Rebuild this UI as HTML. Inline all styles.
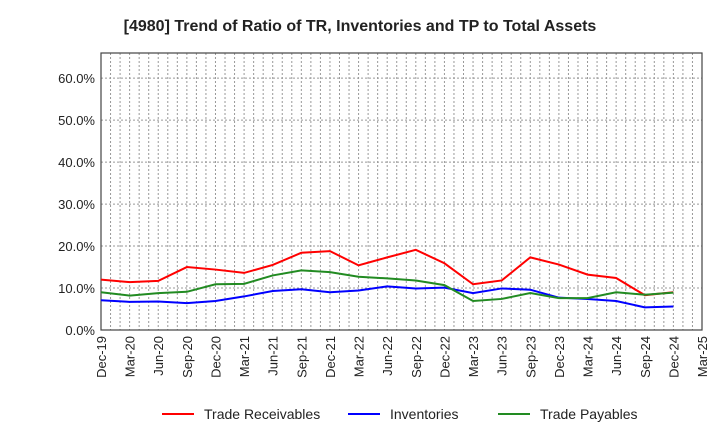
<!DOCTYPE html>
<html><head><meta charset="utf-8"><style>body{margin:0;background:#fff;font-family:"Liberation Sans",sans-serif}</style></head>
<body>
<svg id="c" width="720" height="440" xmlns="http://www.w3.org/2000/svg">
<text x="360" y="31" text-anchor="middle" font-size="16" font-weight="bold" fill="#222">[4980]  Trend of Ratio of TR, Inventories and TP to Total Assets</text>
</svg>
<script>
const xLabels=["Dec-19","Mar-20","Jun-20","Sep-20","Dec-20","Mar-21","Jun-21","Sep-21","Dec-21","Mar-22","Jun-22","Sep-22","Dec-22","Mar-23","Jun-23","Sep-23","Dec-23","Mar-24","Jun-24","Sep-24","Dec-24","Mar-25"];
const yTicks=[0,10,20,30,40,50,60];
const tr=[12.0,11.4,11.7,15.0,14.4,13.6,15.5,18.4,18.8,15.4,17.3,19.1,15.9,10.9,11.8,17.3,15.6,13.2,12.4,8.3,9.0];
const inv=[7.1,6.7,6.8,6.4,6.9,8.0,9.3,9.7,9.0,9.4,10.4,9.9,10.1,8.8,9.9,9.6,7.7,7.4,6.9,5.4,5.6];
const tp=[9.0,8.2,8.8,9.1,10.9,11.0,13.0,14.2,13.8,12.7,12.3,11.8,10.7,6.9,7.4,8.8,7.6,7.6,9.0,8.4,8.9];
const svg=document.getElementById('c'),NS="http://www.w3.org/2000/svg";
const L=101,R=702,T=53,B=330,YMAX=66;
const x=i=>L+(R-L)*i/(xLabels.length-1);
const y=v=>B-(B-T)*v/YMAX;
function mk(t,a){const e=document.createElementNS(NS,t);for(const k in a)e.setAttribute(k,a[k]);svg.appendChild(e);return e;}
for(let m=1;m<(xLabels.length-1)*3;m++){const xx=L+(R-L)*m/((xLabels.length-1)*3);
const g=mk('line',{x1:xx,x2:xx,y1:T,y2:B,stroke:'#999','stroke-dasharray':'2,2','stroke-width':1});

}
yTicks.forEach(v=>{if(v>0){const g=mk('line',{x1:L,x2:R,y1:y(v),y2:y(v),stroke:'#999','stroke-dasharray':'2,2'});

}
const t=mk('text',{x:L-6,y:y(v)+5,'text-anchor':'end','font-size':13,fill:'#222'});t.textContent=v.toFixed(1)+'%';

});
const fr=mk('rect',{x:L,y:T,width:R-L,height:B-T,fill:'none',stroke:'#444','stroke-width':1.2});


xLabels.forEach((s,i)=>{const t=mk('text',{x:0,y:0,'text-anchor':'end','font-size':13,fill:'#222',transform:`translate(${x(i)+5},${B+6}) rotate(-90)`});t.textContent=s;

});
function series(d,c,n){const p=mk('polyline',{points:d.map((v,i)=>x(i)+','+y(v)).join(' '),fill:'none',stroke:c,'stroke-width':2});

}
series(tr,'#f00','trade-receivables-line');series(inv,'#00f','inventories-line');series(tp,'#228b22','trade-payables-line');
[['Trade Receivables','#f00',162],['Inventories','#00f',348],['Trade Payables','#228b22',498]].forEach(([s,c,lx])=>{
const l=mk('line',{x1:lx,x2:lx+32,y1:414,y2:414,stroke:c,'stroke-width':2});


const t=mk('text',{x:lx+42,y:419,'font-size':14,fill:'#222'});t.textContent=s;

});
</script>
</body></html>
